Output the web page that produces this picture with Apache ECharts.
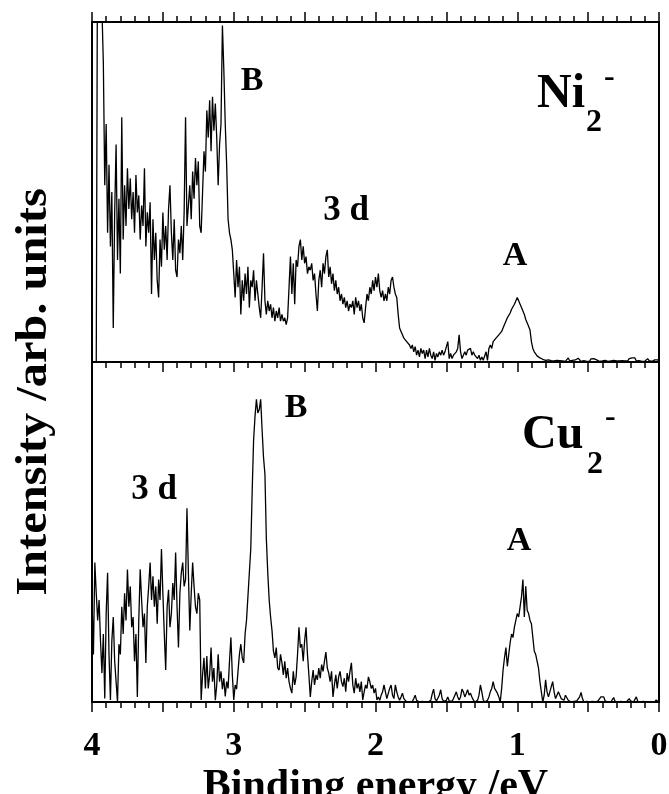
<!DOCTYPE html>
<html>
<head>
<meta charset="utf-8">
<script src="https://cdn.jsdelivr.net/npm/echarts@6/dist/echarts.min.js"></script>
<style>
  html, body { margin: 0; padding: 0; background: #fff; }
  #chart { width: 669px; height: 794px; }
</style>
</head>
<body>
<div id="chart"></div>
<script>
// energy grid: 0.01 eV steps, descending
const step = 0.01
const niStart = 3.97
const cuStart = 4.00

// Ni2- photoelectron intensity, 3.97 -> 0.00 eV
const niIntensity = [
  0, 140, 118, 135, 104, 88, 52, 70,                 // 3.97-3.90
  38, 58, 34, 50, 10, 44, 64, 30, 48, 26,            // 3.89-3.80
  72, 36, 52, 40, 57, 45, 54, 42, 50, 38,
  55, 44, 49, 36, 46, 40, 57, 34, 44, 38,
  47, 20, 42, 30, 38, 24, 19, 36, 28, 44,
  33, 40, 30, 45, 52, 38, 30, 42, 27, 25,
  36, 32, 40, 30, 44, 72, 40, 46, 52, 42,
  56, 48, 60, 52, 59, 40, 38, 50, 62, 56,
  74, 66, 77, 62, 78, 68, 76, 66, 52, 64,
  70, 99, 86, 70, 58, 42, 38, 36, 33, 26,            // 3.09-3.00
  19, 30, 22, 28, 14, 24, 18, 26, 20, 28,
  16, 24, 22, 27, 18, 24, 20, 16, 13, 22,
  32, 18, 14, 18, 15, 17, 13, 16, 12, 15,
  13, 16, 12, 14, 12, 13, 11, 13, 22, 31,
  20, 29, 17, 30, 28, 34, 36, 30, 34, 29,
  31, 26, 28, 27, 29, 24, 26, 20, 15, 24,
  27, 22, 29, 26, 31, 33, 25, 28, 23, 26,
  21, 24, 20, 22, 18, 20, 17, 19, 16, 18,
  15, 17, 16, 18, 14, 19, 16, 18, 15, 17,
  13, 11.5, 16, 20, 18, 22, 20, 24, 21, 25,          // 2.09-2.00
  22, 26, 21, 19, 21, 18, 20, 18, 22, 20,
  24, 25, 22, 20, 19, 14, 10, 9, 8, 7,
  7.5, 6, 6.5, 5, 4, 5, 3, 4.5, 2, 3.5,
  1.5, 4, 2.5, 3.5, 1, 3.5, 1.5, 4, 2, 1,
  3, 0.5, 2.5, 1.5, 3, 2, 3.5, 2, 3, 2.5,
  6, 1, 2.5, 1, 2, 1.5, 3, 4, 8, 3,
  1, 2, 3, 2, 3.5, 3, 4, 2, 3, 2,
  2.5, 1, 2, 0.5, 1.5, 0.5, 1, 3, 0.5, 4,
  5, 4, 6, 6.5, 7, 7.4, 8, 7.5, 9, 9.5,
  11, 12, 13, 13.5, 14.4, 15.5, 16, 17, 17.5, 19,    // 1.09-1.00
  18, 17, 16, 15, 14, 12.5, 12, 10.5, 9.4, 6,
  4, 3, 2.5, 1.8, 1.5, 1.2, 1.5, 0.8, 1, 0.5,
  0.3, 0.6, 0.2, 0.4, 0.8, 0.3, 0.2, 0.5, 0.9, 0.4,
  0.2, 0.3, 0.6, 0.2, 0.4, 1.2, 0.3, 0.2, 0.5, 0.4,
  0.6, 1.0, 1.1, 0.8, 0.2, 0.3, 0.4, 0.3, 0.2, 0.4,
  0.2, 0.9, 1.1, 1.0, 1.2, 0.6, 0.3, 0.2, 0.4, 0.3,
  0.2, 0.5, 0.3, 0.2, 0.4, 0.3, 0.2, 0.5, 0.4, 0.3,
  0.2, 0.3, 0.2, 0.4, 0.2, 0.3, 0.2, 0.4, 1.0, 1.1,
  1.2, 1.0, 1.2, 0.3, 0.2, 0.4, 0.3, 0.2, 0.3, 0.2,
  0.4, 1.0, 0.4, 0.3, 0.2, 0.3, 0.6, 0.8, 0.6, 0.4   // 0.09-0.00
]

// Cu2- photoelectron intensity, 4.00 -> 0.00 eV
const cuIntensity = [
  30,                                                // 4.00
  14, 41, 32, 24, 30, 18, 8.5, 20, 1, 26,            // 3.99-3.90
  38, 14, 0.6, 18, 25, 12, 6, 0, 17, 14,
  28, 20, 32, 24, 39, 28, 34, 22, 25, 12,
  20, 1.5, 24, 39, 30, 22, 26, 11.5, 28, 34,
  41, 30, 37, 28, 34, 23, 36, 30, 45, 32,
  20, 9.4, 28, 33, 22, 26, 35, 30, 44, 28,
  16, 32, 38, 41, 34, 36, 57, 38, 21, 32,
  41, 34, 28, 26, 32, 30, 0.6, 8, 13, 4,
  13.5, 4, 8, 16, 6, 10, 0.5, 5, 14, 6,
  9, 3.8, 7, 1.6, 6, 4, 12, 19, 8, 0.6,              // 3.09-3.00
  5, 3.8, 9, 14, 17, 13, 11.5, 20, 24, 31,
  38, 45, 62, 77, 84, 89, 85, 86, 89, 80,
  72, 67, 48, 38, 30, 25, 21, 15, 13, 16,
  10, 9.4, 14, 11.5, 8, 12, 7, 10, 6, 4,
  2.6, 9, 5, 7.4, 14, 22, 16, 17, 12, 18,
  22, 14, 8, 1.5, 6, 9.4, 5, 8, 6.5, 10,
  7, 11, 9, 12, 14.7, 10, 8.5, 6, 9, 1.5,
  5, 8, 4, 7.4, 9, 6, 4.5, 7, 3, 8.5,
  6, 9, 11.5, 5, 2.6, 7, 4, 5.5, 3, 6,
  0.6, 3, 5, 4, 7.4, 6, 4, 5, 2.6, 4,                // 2.09-2.00
  0.6, 1.5, 0.5, 2, 3, 5, 3, 1, 0.5, 4,
  5, 2, 1, 5, 3, 1.5, 0.5, 1.5, 2.6, 1,
  0.6, 0, 0.3, 0, 0.5, 0.2, 1, 2, 0.5, 0,
  0, 0, 0.2, 0, 0, 0.3, 0, 0, 0.5, 2.4,
  3.8, 1, 0.3, 0.6, 2, 3.6, 1, 0.2, 0, 0.5,
  1.5, 0.3, 0, 0.2, 1, 2, 3, 1.5, 0.6, 1.5,
  3.8, 3, 1.5, 2.5, 3.6, 2, 2.6, 1.5, 0.6, 0,
  0, 0.5, 2, 5, 3, 0.6, 0, 0.3, 0.5, 1.5,
  3, 4, 6, 4, 3.5, 2.6, 1.5, 0, 4, 9.4,
  13, 16, 10.5, 14, 17.5, 20, 19, 22, 24, 26,        // 1.09-1.00
  25, 28, 31, 36, 25, 34, 27, 26, 24, 23,
  19, 15, 14, 12, 10, 6, 3, 0, 2, 6.5,
  3, 1.5, 3, 4.5, 6, 3, 1, 2, 3, 2.5,
  1, 1.5, 0.5, 2, 1.5, 0.5, 0.2, 0, 0, 0.2,
  0, 0.3, 0, 1.5, 2.8, 1, 0, 0, 0.2, 0,
  0, 0, 0.2, 0, 0, 0, 0.3, 0.2, 1.5, 2,
  1.5, 0.3, 0, 0, 0.2, 0, 0.5, 1.3, 0.2, 0,
  0, 0, 0.2, 0, 0, 0, 0, 0.5, 1, 0.3,
  0, 0, 0.5, 1.5, 0.2, 0, 0, 0, 0.2, 0,
  0, 0, 0, 0.2, 0, 0, 0, 0.6, 0.2, 0                 // 0.09-0.00
]

const xTickLabels = ['4', '3', '2', '1', '0']

const toPoints = (start, values) =>
  values.map((v, i) => [+(start - i * step).toFixed(2), v])

const font = 'Liberation Serif'
const black = '#000'

const myChart = echarts.init(document.getElementById('chart'))

const tickStyle = { color: black, width: 1.5 }

const baseX = {
  type: 'value', min: 0, max: 4, interval: 0.5, inverse: true,
  axisLine: { show: true, onZero: false, lineStyle: { color: black, width: 2 } },
  splitLine: { show: false },
  minorTick: { show: true, splitNumber: 5, length: 6, lineStyle: tickStyle },
  minorSplitLine: { show: false }
}

const baseY = {
  type: 'value', min: 0, max: 100,
  axisLine: { show: true, onZero: false, lineStyle: { color: black, width: 2 } },
  axisTick: { show: false }, axisLabel: { show: false }, splitLine: { show: false }
}

function label(text, x, y, size, align) {
  return {
    type: 'text', x: x, y: y, silent: true,
    style: {
      text: text, fill: black, font: 'bold ' + size + 'px "' + font + '"',
      textAlign: align || 'center', textVerticalAlign: 'middle'
    }
  }
}

const option = {
  backgroundColor: '#fff',
  animation: false,
  grid: [
    { left: 92, right: 10, top: 22, height: 340, show: true, borderColor: black, borderWidth: 2,
      outerBoundsMode: 'none' },
    { left: 92, right: 10, top: 362, height: 340, show: true, borderColor: black, borderWidth: 2,
      outerBoundsMode: 'none' }
  ],
  xAxis: [
    Object.assign({}, baseX, {
      gridIndex: 0, position: 'top',
      axisTick: { show: true, inside: false, length: 10, lineStyle: tickStyle },
      axisLabel: { show: false }
    }),
    Object.assign({}, baseX, {
      gridIndex: 1, position: 'top',
      axisTick: { show: true, inside: true, length: 10, lineStyle: tickStyle },
      minorTick: { show: true, splitNumber: 5, length: 6, inside: true, lineStyle: tickStyle },
      axisLabel: { show: false }
    }),
    Object.assign({}, baseX, {
      gridIndex: 1, position: 'bottom',
      axisTick: { show: true, inside: false, length: 10, lineStyle: tickStyle },
      axisLabel: {
        show: true, margin: 27, color: black, fontFamily: font, fontWeight: 'bold', fontSize: 34,
        formatter: v => (Number.isInteger(v) ? xTickLabels[4 - v] : '')
      },
      name: 'Binding energy /eV', nameLocation: 'middle', nameGap: 64,
      nameTextStyle: { color: black, fontFamily: font, fontWeight: 'bold', fontSize: 42 }
    })
  ],
  yAxis: [
    Object.assign({}, baseY, { gridIndex: 0 }),
    Object.assign({}, baseY, { gridIndex: 1 })
  ],
  series: [
    {
      name: 'Ni2-', type: 'line', xAxisIndex: 0, yAxisIndex: 0,
      data: toPoints(niStart, niIntensity),
      showSymbol: false, clip: true, sampling: 'none',
      lineStyle: { color: black, width: 1.3 }
    },
    {
      name: 'Cu2-', type: 'line', xAxisIndex: 2, yAxisIndex: 1,
      data: toPoints(cuStart, cuIntensity),
      showSymbol: false, clip: true, sampling: 'none',
      lineStyle: { color: black, width: 1.3 }
    }
  ],
  graphic: [
    {
      type: 'text', x: 35, y: 392, rotation: Math.PI / 2, scaleX: 1.1, silent: true,
      style: {
        text: 'Intensity /arb. units', fill: black, font: 'bold 44px "' + font + '"',
        textAlign: 'center', textVerticalAlign: 'middle'
      }
    },
    label('B', 252, 81, 34),
    label('3 d', 346, 211, 35),
    label('A', 515, 256, 34),
    label('Ni', 537, 95, 48, 'left'),
    label('2', 586, 123, 32, 'left'),
    label('-', 604, 78, 32, 'left'),
    label('B', 296, 408, 34),
    label('3 d', 154, 490, 35),
    label('A', 519, 541, 34),
    label('Cu', 522, 436, 48, 'left'),
    label('2', 587, 465, 32, 'left'),
    label('-', 605, 418, 32, 'left')
  ]
}

myChart.setOption(option)
window.addEventListener('resize', () => myChart.resize())
</script>
</body>
</html>
